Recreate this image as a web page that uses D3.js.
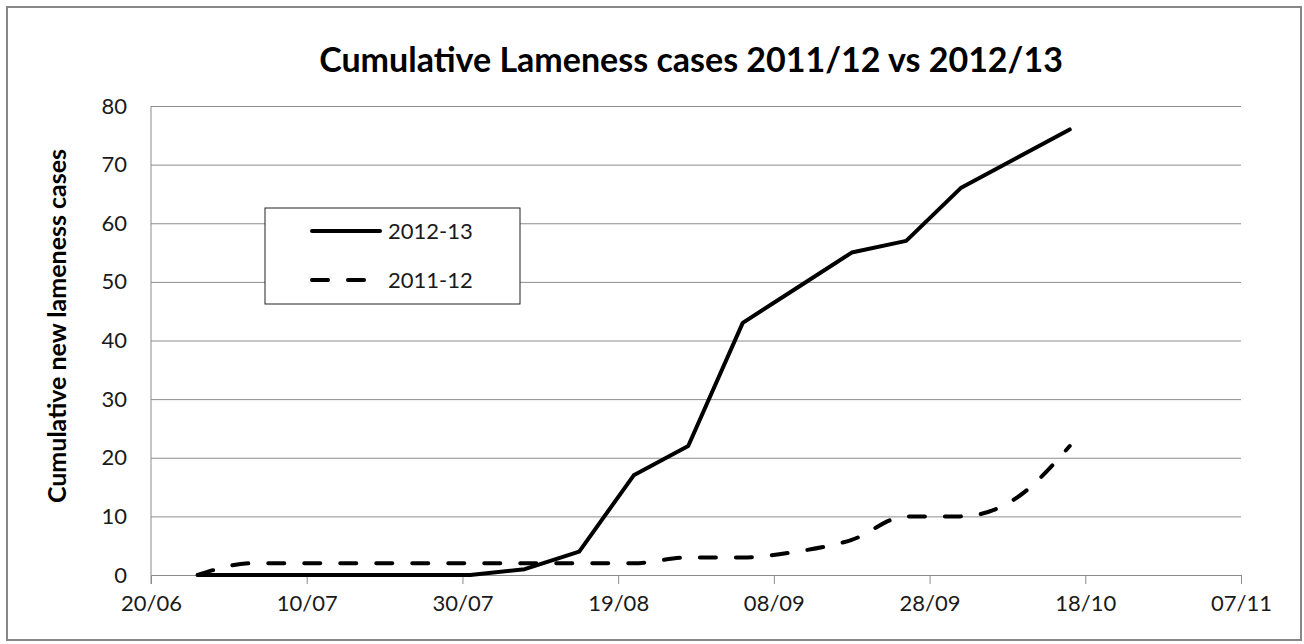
<!DOCTYPE html>
<html>
<head>
<meta charset="utf-8">
<script src="https://cdn.jsdelivr.net/npm/d3@7"></script>
<style>
  body { margin: 0; background: #fff; }
  text { font-family: Lato, "Open Sans", sans-serif; fill: #1a1a1a; }
</style>
</head>
<body>
<div id="chart"></div>
<script>
(function() {

  // weekly observation dates (dd/mm, 2012)
  var dates = ["26/06", "03/07", "10/07", "17/07", "24/07", "31/07", "07/08", "14/08", "21/08",
               "28/08", "04/09", "11/09", "18/09", "25/09", "02/10", "09/10", "16/10"];

  var cases1213 = [0, 0, 0, 0, 0, 0, 1, 4, 17, 22, 43, 49, 55, 57, 66, 71, 76];
  var cases1112 = [0, 2, 2, 2, 2, 2, 2, 2, 2, 3, 3, 4, 6, 10, 10, 13, 22];

  var xTickLabels = ["20/06", "10/07", "30/07", "19/08", "08/09", "28/09", "18/10", "07/11"];
  var yTickValues = [0, 10, 20, 30, 40, 50, 60, 70, 80];

  var seriesNames = ["2012-13", "2011-12"];

  var width = 1304,
      height = 644,
      left = 151,
      right = 1241,
      top = 106,
      bottom = 575;

  var parse = function(s) {
    var p = s.split("/");
    return new Date(2012, +p[1] - 1, +p[0]);
  };

  var x = d3.scaleTime()
      .domain([parse(xTickLabels[0]), parse(xTickLabels[xTickLabels.length - 1])])
      .range([left, right]);

  var y = d3.scaleLinear()
      .domain([0, 80])
      .range([bottom, top]);

  var svg = d3.select("#chart").append("svg")
      .attr("width", width)
      .attr("height", height);

  // outer chart border
  svg.append("rect")
      .attr("x", 7)
      .attr("y", 7)
      .attr("width", 1294)
      .attr("height", 633)
      .attr("fill", "#fff")
      .attr("stroke", "#878787")
      .attr("stroke-width", 2);

  svg.append("text")
      .attr("x", 691)
      .attr("y", 72)
      .attr("text-anchor", "middle")
      .style("font-size", "34px")
      .style("font-weight", "bold")
      .style("fill", "#000")
      .text("Cumulative Lameness cases 2011/12 vs 2012/13");

  // y gridlines + labels
  var yAxis = svg.append("g")
      .attr("transform", "translate(" + left + ",0)")
      .call(d3.axisLeft(y).tickValues(yTickValues).tickSize(-(right - left)).tickPadding(24));

  yAxis.select(".domain").remove();
  yAxis.selectAll(".tick line").attr("stroke", "#8c8c8c");
  yAxis.selectAll(".tick text")
      .style("font-size", "22px")
      .attr("fill", "#1a1a1a");

  var xAxis = svg.append("g")
      .attr("transform", "translate(0," + bottom + ")")
      .call(d3.axisBottom(x)
        .tickValues(xTickLabels.map(parse))
        .tickSize(9)
        .tickPadding(11)
        .tickFormat(d3.timeFormat("%d/%m")));

  xAxis.selectAll("path, line").attr("stroke", "#8c8c8c");
  xAxis.selectAll(".tick text")
      .style("font-size", "22px")
      .attr("fill", "#1a1a1a");

  // left axis line
  svg.append("line")
      .attr("x1", left)
      .attr("x2", left)
      .attr("y1", top)
      .attr("y2", bottom + 9)
      .attr("stroke", "#8c8c8c");

  svg.append("text")
      .attr("transform", "translate(66,326) rotate(-90)")
      .attr("text-anchor", "middle")
      .style("font-size", "25px")
      .style("font-weight", "bold")
      .style("fill", "#000")
      .text("Cumulative new lameness cases");

  var line = d3.line()
      .x(function(d, i) { return x(parse(dates[i])); })
      .y(function(d) { return y(d); });

  svg.append("path")
      .datum(cases1112)
      .attr("fill", "none")
      .attr("stroke", "#000")
      .attr("stroke-width", 4)
      .attr("stroke-dasharray", "16,20")
      .attr("stroke-linecap", "round")
      .attr("d", line.curve(d3.curveMonotoneX));

  svg.append("path")
      .datum(cases1213)
      .attr("fill", "none")
      .attr("stroke", "#000")
      .attr("stroke-width", 4)
      .attr("stroke-linejoin", "round")
      .attr("stroke-linecap", "round")
      .attr("d", line.curve(d3.curveLinear));

  // legend
  var legend = svg.append("g");

  legend.append("rect")
      .attr("x", 265)
      .attr("y", 208)
      .attr("width", 255)
      .attr("height", 96)
      .attr("fill", "#fff")
      .attr("stroke", "#222")
      .attr("stroke-width", 1);

  var rows = legend.selectAll(".row")
      .data(seriesNames)
    .enter().append("g")
      .attr("transform", function(d, i) { return "translate(0," + (231 + i * 49) + ")"; });

  rows.append("line")
      .attr("x1", 312)
      .attr("x2", 380)
      .attr("stroke", "#000")
      .attr("stroke-width", 4)
      .attr("stroke-linecap", "round")
      .attr("stroke-dasharray", function(d, i) { return i ? "16,20" : null; });

  rows.append("text")
      .attr("x", 388)
      .attr("dy", "0.35em")
      .style("font-size", "22px")
      .text(function(d) { return d; });

})();
</script>
</body>
</html>
